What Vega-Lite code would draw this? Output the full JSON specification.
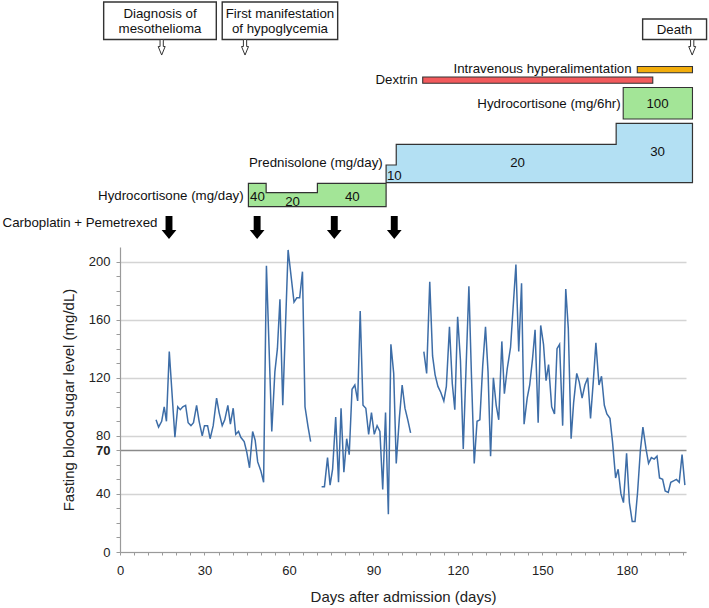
{
  "$schema": "https://vega.github.io/schema/vega-lite/v6.json",
  "padding": {"left": 2, "top": 0, "right": 2, "bottom": 2},
  "config": {"font": "Liberation Sans", "view": {"stroke": null}},
  "spacing": 0,
  "bounds": "flush",
  "resolve": {"scale": {"x": "independent", "y": "independent", "color": "independent"}},
  "datasets": {
    "boxes": [
      {"day": -5.8, "day2": 34.2, "level": 2, "level2": 39.5},
      {"day": 36.3, "day2": 77.3, "level": 2, "level2": 39.5},
      {"day": 185.6, "day2": 208.3, "level": 19, "level2": 39.5}
    ],
    "steps": [
      {"drug": "Prednisolone", "day": 94.5, "level": 165, "base": 182.7},
      {"drug": "Prednisolone", "day": 98.1, "level": 144.3, "base": 182.7},
      {"drug": "Prednisolone", "day": 176.2, "level": 123.3, "base": 182.7},
      {"drug": "Prednisolone", "day": 203.3, "level": 123.3, "base": 182.7},
      {"drug": "Hydrocortisone (mg/day)", "day": 45.6, "level": 183.3, "base": 206.7},
      {"drug": "Hydrocortisone (mg/day)", "day": 51.9, "level": 192.7, "base": 206.7},
      {"drug": "Hydrocortisone (mg/day)", "day": 70.1, "level": 183.3, "base": 206.7},
      {"drug": "Hydrocortisone (mg/day)", "day": 94.5, "level": 183.3, "base": 206.7}
    ],
    "bars": [
      {"drug": "Intravenous hyperalimentation", "day": 183.7, "day2": 203.3, "level": 66.5, "level2": 72.7},
      {"drug": "Dextrin", "day": 107.5, "day2": 189.2, "level": 77, "level2": 83.3},
      {"drug": "Hydrocortisone (mg/6hr)", "day": 178.7, "day2": 203.3, "level": 87.5, "level2": 119}
    ],
    "events": [
      {"event": "Diagnosis of mesothelioma", "day": 14.8, "level": 47.3},
      {"event": "First manifestation of hypoglycemia", "day": 44.4, "level": 47.3},
      {"event": "Death", "day": 203.2, "level": 47.3}
    ],
    "chemo": [
      {"cycle": 1, "day": 17.4, "level": 227.5},
      {"cycle": 2, "day": 48.7, "level": 227.5},
      {"cycle": 3, "day": 76.1, "level": 227.5},
      {"cycle": 4, "day": 97.4, "level": 227.5}
    ],
    "labels_center": [
      {"text": "Diagnosis of", "day": 14.2, "level": 14},
      {"text": "mesothelioma", "day": 14.2, "level": 29.3},
      {"text": "First manifestation", "day": 56.8, "level": 14},
      {"text": "of hypoglycemia", "day": 56.8, "level": 29.3},
      {"text": "Death", "day": 196.9, "level": 29.5},
      {"text": "100", "day": 190.9, "level": 104},
      {"text": "10", "day": 97.4, "level": 175.5},
      {"text": "20", "day": 141.2, "level": 162.7},
      {"text": "30", "day": 190.9, "level": 151.7},
      {"text": "40", "day": 48.8, "level": 196.7},
      {"text": "20", "day": 61.3, "level": 201.7},
      {"text": "40", "day": 82.5, "level": 196.7}
    ],
    "labels_right": [
      {"text": "Intravenous hyperalimentation", "day": 181.7, "level": 68.5},
      {"text": "Dextrin", "day": 105.7, "level": 80},
      {"text": "Hydrocortisone (mg/6hr)", "day": 177.8, "level": 104},
      {"text": "Prednisolone (mg/day)", "day": 93.3, "level": 163},
      {"text": "Hydrocortisone (mg/day)", "day": 43.9, "level": 195.7},
      {"text": "Carboplatin + Pemetrexed", "day": 13.3, "level": 223}
    ],
    "glucose": [
      {"day": 12.8, "value": 91, "segment": "A"},
      {"day": 13.7, "value": 86, "segment": "A"},
      {"day": 14.8, "value": 90, "segment": "A"},
      {"day": 15.7, "value": 100, "segment": "A"},
      {"day": 16.5, "value": 90, "segment": "A"},
      {"day": 17.5, "value": 138, "segment": "A"},
      {"day": 19.5, "value": 79, "segment": "A"},
      {"day": 20.5, "value": 100, "segment": "A"},
      {"day": 21.4, "value": 98, "segment": "A"},
      {"day": 22.3, "value": 100, "segment": "A"},
      {"day": 23.3, "value": 101, "segment": "A"},
      {"day": 24.2, "value": 89, "segment": "A"},
      {"day": 25.2, "value": 87, "segment": "A"},
      {"day": 26.1, "value": 89, "segment": "A"},
      {"day": 27.2, "value": 101, "segment": "A"},
      {"day": 28.1, "value": 90, "segment": "A"},
      {"day": 29.2, "value": 80, "segment": "A"},
      {"day": 30.0, "value": 87, "segment": "A"},
      {"day": 31.1, "value": 87, "segment": "A"},
      {"day": 32.0, "value": 78, "segment": "A"},
      {"day": 33.1, "value": 87, "segment": "A"},
      {"day": 34.3, "value": 106, "segment": "A"},
      {"day": 35.2, "value": 96, "segment": "A"},
      {"day": 36.3, "value": 87, "segment": "A"},
      {"day": 37.2, "value": 91, "segment": "A"},
      {"day": 38.3, "value": 101, "segment": "A"},
      {"day": 39.2, "value": 88, "segment": "A"},
      {"day": 40.2, "value": 99, "segment": "A"},
      {"day": 41.1, "value": 81, "segment": "A"},
      {"day": 42.1, "value": 83, "segment": "A"},
      {"day": 42.9, "value": 79, "segment": "A"},
      {"day": 44.1, "value": 76, "segment": "A"},
      {"day": 45.0, "value": 69, "segment": "A"},
      {"day": 46.0, "value": 58, "segment": "A"},
      {"day": 47.1, "value": 83, "segment": "A"},
      {"day": 48.0, "value": 77, "segment": "A"},
      {"day": 48.9, "value": 62, "segment": "A"},
      {"day": 50.0, "value": 56, "segment": "A"},
      {"day": 51.0, "value": 48, "segment": "A"},
      {"day": 52.0, "value": 197, "segment": "A"},
      {"day": 53.9, "value": 83, "segment": "A"},
      {"day": 55.0, "value": 124, "segment": "A"},
      {"day": 55.9, "value": 140, "segment": "A"},
      {"day": 56.8, "value": 174, "segment": "A"},
      {"day": 57.8, "value": 101, "segment": "A"},
      {"day": 59.7, "value": 208, "segment": "A"},
      {"day": 61.8, "value": 172, "segment": "A"},
      {"day": 62.8, "value": 175, "segment": "A"},
      {"day": 63.8, "value": 175, "segment": "A"},
      {"day": 64.8, "value": 193, "segment": "A"},
      {"day": 65.7, "value": 100, "segment": "A"},
      {"day": 66.8, "value": 86, "segment": "A"},
      {"day": 67.7, "value": 76, "segment": "A"},
      {"day": 71.6, "value": 45, "segment": "B"},
      {"day": 72.6, "value": 45, "segment": "B"},
      {"day": 73.7, "value": 65, "segment": "B"},
      {"day": 74.6, "value": 46, "segment": "B"},
      {"day": 75.5, "value": 57, "segment": "B"},
      {"day": 76.6, "value": 93, "segment": "B"},
      {"day": 77.6, "value": 48, "segment": "B"},
      {"day": 78.5, "value": 99, "segment": "B"},
      {"day": 79.5, "value": 55, "segment": "B"},
      {"day": 80.5, "value": 78, "segment": "B"},
      {"day": 81.4, "value": 67, "segment": "B"},
      {"day": 82.4, "value": 112, "segment": "B"},
      {"day": 83.4, "value": 115, "segment": "B"},
      {"day": 84.4, "value": 104, "segment": "B"},
      {"day": 85.3, "value": 166, "segment": "B"},
      {"day": 86.3, "value": 101, "segment": "B"},
      {"day": 87.3, "value": 99, "segment": "B"},
      {"day": 88.3, "value": 81, "segment": "B"},
      {"day": 89.3, "value": 96, "segment": "B"},
      {"day": 90.3, "value": 81, "segment": "B"},
      {"day": 91.3, "value": 87, "segment": "B"},
      {"day": 92.3, "value": 83, "segment": "B"},
      {"day": 93.3, "value": 43, "segment": "B"},
      {"day": 94.3, "value": 96, "segment": "B"},
      {"day": 95.3, "value": 26, "segment": "B"},
      {"day": 96.2, "value": 143, "segment": "B"},
      {"day": 97.2, "value": 123, "segment": "B"},
      {"day": 98.1, "value": 61, "segment": "B"},
      {"day": 99.2, "value": 92, "segment": "B"},
      {"day": 100.2, "value": 115, "segment": "B"},
      {"day": 101.2, "value": 99, "segment": "B"},
      {"day": 102.2, "value": 91, "segment": "B"},
      {"day": 103.2, "value": 82, "segment": "B"},
      {"day": 107.9, "value": 138, "segment": "C"},
      {"day": 108.9, "value": 123, "segment": "C"},
      {"day": 110.0, "value": 186, "segment": "C"},
      {"day": 111.0, "value": 135, "segment": "C"},
      {"day": 111.9, "value": 122, "segment": "C"},
      {"day": 112.9, "value": 114, "segment": "C"},
      {"day": 113.9, "value": 110, "segment": "C"},
      {"day": 115.0, "value": 104, "segment": "C"},
      {"day": 115.9, "value": 114, "segment": "C"},
      {"day": 117.0, "value": 155, "segment": "C"},
      {"day": 118.0, "value": 116, "segment": "C"},
      {"day": 118.9, "value": 98, "segment": "C"},
      {"day": 119.9, "value": 162, "segment": "C"},
      {"day": 120.9, "value": 132, "segment": "C"},
      {"day": 121.9, "value": 71, "segment": "C"},
      {"day": 123.9, "value": 183, "segment": "C"},
      {"day": 124.8, "value": 122, "segment": "C"},
      {"day": 125.8, "value": 61, "segment": "C"},
      {"day": 126.8, "value": 90, "segment": "C"},
      {"day": 127.8, "value": 91, "segment": "C"},
      {"day": 128.8, "value": 128, "segment": "C"},
      {"day": 129.8, "value": 155, "segment": "C"},
      {"day": 130.7, "value": 124, "segment": "C"},
      {"day": 131.6, "value": 66, "segment": "C"},
      {"day": 132.6, "value": 120, "segment": "C"},
      {"day": 133.6, "value": 101, "segment": "C"},
      {"day": 134.5, "value": 91, "segment": "C"},
      {"day": 135.6, "value": 145, "segment": "C"},
      {"day": 136.5, "value": 109, "segment": "C"},
      {"day": 137.5, "value": 126, "segment": "C"},
      {"day": 138.7, "value": 141, "segment": "C"},
      {"day": 139.6, "value": 168, "segment": "C"},
      {"day": 140.6, "value": 198, "segment": "C"},
      {"day": 141.6, "value": 138, "segment": "C"},
      {"day": 142.6, "value": 185, "segment": "C"},
      {"day": 143.5, "value": 88, "segment": "C"},
      {"day": 144.6, "value": 106, "segment": "C"},
      {"day": 145.5, "value": 115, "segment": "C"},
      {"day": 146.5, "value": 133, "segment": "C"},
      {"day": 147.4, "value": 153, "segment": "C"},
      {"day": 148.5, "value": 89, "segment": "C"},
      {"day": 149.4, "value": 156, "segment": "C"},
      {"day": 150.4, "value": 143, "segment": "C"},
      {"day": 151.3, "value": 118, "segment": "C"},
      {"day": 152.2, "value": 129, "segment": "C"},
      {"day": 153.3, "value": 100, "segment": "C"},
      {"day": 154.3, "value": 95, "segment": "C"},
      {"day": 155.2, "value": 140, "segment": "C"},
      {"day": 156.1, "value": 143, "segment": "C"},
      {"day": 157.2, "value": 87, "segment": "C"},
      {"day": 158.3, "value": 181, "segment": "C"},
      {"day": 159.2, "value": 154, "segment": "C"},
      {"day": 160.2, "value": 78, "segment": "C"},
      {"day": 161.1, "value": 103, "segment": "C"},
      {"day": 162.2, "value": 123, "segment": "C"},
      {"day": 163.1, "value": 117, "segment": "C"},
      {"day": 164.1, "value": 106, "segment": "C"},
      {"day": 165.1, "value": 115, "segment": "C"},
      {"day": 166.1, "value": 120, "segment": "C"},
      {"day": 167.1, "value": 92, "segment": "C"},
      {"day": 168.1, "value": 118, "segment": "C"},
      {"day": 169.0, "value": 144, "segment": "C"},
      {"day": 170.1, "value": 115, "segment": "C"},
      {"day": 171.0, "value": 121, "segment": "C"},
      {"day": 172.0, "value": 101, "segment": "C"},
      {"day": 172.9, "value": 95, "segment": "C"},
      {"day": 174.0, "value": 92, "segment": "C"},
      {"day": 174.9, "value": 76, "segment": "C"},
      {"day": 176.0, "value": 51, "segment": "C"},
      {"day": 176.9, "value": 57, "segment": "C"},
      {"day": 177.9, "value": 40, "segment": "C"},
      {"day": 178.8, "value": 34, "segment": "C"},
      {"day": 179.9, "value": 68, "segment": "C"},
      {"day": 180.9, "value": 34, "segment": "C"},
      {"day": 181.9, "value": 21, "segment": "C"},
      {"day": 182.9, "value": 21, "segment": "C"},
      {"day": 183.8, "value": 41, "segment": "C"},
      {"day": 184.8, "value": 70, "segment": "C"},
      {"day": 185.7, "value": 86, "segment": "C"},
      {"day": 186.8, "value": 71, "segment": "C"},
      {"day": 187.7, "value": 61, "segment": "C"},
      {"day": 188.7, "value": 65, "segment": "C"},
      {"day": 189.7, "value": 64, "segment": "C"},
      {"day": 190.7, "value": 66, "segment": "C"},
      {"day": 191.6, "value": 51, "segment": "C"},
      {"day": 192.7, "value": 50, "segment": "C"},
      {"day": 193.6, "value": 42, "segment": "C"},
      {"day": 194.7, "value": 41, "segment": "C"},
      {"day": 195.6, "value": 48, "segment": "C"},
      {"day": 196.6, "value": 49, "segment": "C"},
      {"day": 197.6, "value": 50, "segment": "C"},
      {"day": 198.6, "value": 48, "segment": "C"},
      {"day": 199.6, "value": 67, "segment": "C"},
      {"day": 200.6, "value": 46, "segment": "C"}
    ]
  },
  "vconcat": [
    {
      "width": 566,
      "height": 247,
      "layer": [
        {
          "data": {"name": "steps"},
          "mark": {"type": "area", "interpolate": "step-after", "stroke": "#333333", "strokeWidth": 1.2, "opacity": 1},
          "encoding": {
            "x": {"field": "day", "type": "quantitative", "scale": {"domain": [0, 201], "nice": false, "zero": false}, "axis": null},
            "y": {"field": "level", "type": "quantitative", "scale": {"domain": [0, 247], "nice": false, "zero": false, "reverse": true}, "axis": null},
            "y2": {"field": "base"},
            "color": {"field": "drug", "type": "nominal", "legend": null,
              "scale": {"domain": ["Prednisolone", "Hydrocortisone (mg/day)", "Hydrocortisone (mg/6hr)", "Dextrin", "Intravenous hyperalimentation"],
                        "range": ["#B3E0F3", "#A3E597", "#A3E597", "#F25A5C", "#F2AD0C"]}}
          }
        },
        {
          "data": {"name": "bars"},
          "mark": {"type": "rect", "stroke": "#333333", "strokeWidth": 1.1},
          "encoding": {
            "x": {"field": "day", "type": "quantitative", "scale": {"domain": [0, 201], "nice": false, "zero": false}, "axis": null},
            "x2": {"field": "day2"},
            "y": {"field": "level", "type": "quantitative", "scale": {"domain": [0, 247], "nice": false, "zero": false, "reverse": true}, "axis": null},
            "y2": {"field": "level2"},
            "color": {"field": "drug", "type": "nominal", "legend": null,
              "scale": {"domain": ["Prednisolone", "Hydrocortisone (mg/day)", "Hydrocortisone (mg/6hr)", "Dextrin", "Intravenous hyperalimentation"],
                        "range": ["#B3E0F3", "#A3E597", "#A3E597", "#F25A5C", "#F2AD0C"]}}
          }
        },
        {
          "data": {"name": "boxes"},
          "mark": {"type": "rect", "fill": "white", "stroke": "#333333", "strokeWidth": 1.4},
          "encoding": {
            "x": {"field": "day", "type": "quantitative", "axis": null},
            "x2": {"field": "day2"},
            "y": {"field": "level", "type": "quantitative", "axis": null},
            "y2": {"field": "level2"}
          }
        },
        {
          "data": {"name": "events"},
          "mark": {"type": "point", "filled": true, "fill": "white", "stroke": "#333333", "strokeWidth": 1, "opacity": 1, "size": 240,
                   "shape": "M -0.21 -1 L 0.21 -1 L 0.21 -0.1 L 0.45 -0.1 L 0 1 L -0.45 -0.1 L -0.21 -0.1 Z"},
          "encoding": {
            "x": {"field": "day", "type": "quantitative", "axis": null},
            "y": {"field": "level", "type": "quantitative", "axis": null}
          }
        },
        {
          "data": {"name": "chemo"},
          "mark": {"type": "point", "filled": true, "fill": "black", "strokeWidth": 0, "opacity": 1, "size": 529,
                   "shape": "M -0.3 -1 L 0.3 -1 L 0.3 0.22 L 0.64 0.22 L 0 1 L -0.64 0.22 L -0.3 0.22 Z"},
          "encoding": {
            "x": {"field": "day", "type": "quantitative", "axis": null},
            "y": {"field": "level", "type": "quantitative", "axis": null}
          }
        },
        {
          "data": {"name": "labels_center"},
          "mark": {"type": "text", "align": "center", "baseline": "middle", "fontSize": 13.3, "color": "#111111"},
          "encoding": {
            "x": {"field": "day", "type": "quantitative", "axis": null},
            "y": {"field": "level", "type": "quantitative", "axis": null},
            "text": {"field": "text"}
          }
        },
        {
          "data": {"name": "labels_right"},
          "mark": {"type": "text", "align": "right", "baseline": "middle", "fontSize": 13.3, "color": "#111111"},
          "encoding": {
            "x": {"field": "day", "type": "quantitative", "axis": null},
            "y": {"field": "level", "type": "quantitative", "axis": null},
            "text": {"field": "text"}
          }
        }
      ]
    },
    {
      "width": 566,
      "height": 305,
      "data": {"name": "glucose"},
      "mark": {"type": "line", "color": "#3D6DA7", "strokeWidth": 1.5},
      "encoding": {
        "x": {
          "field": "day", "type": "quantitative",
          "scale": {"domain": [0, 201], "nice": false, "zero": false},
          "axis": {
            "title": "Days after admission (days)",
            "values": [0,5,10,15,20,25,30,35,40,45,50,55,60,65,70,75,80,85,90,95,100,105,110,115,120,125,130,135,140,145,150,155,160,165,170,175,180,185,190,195,200],
            "labelExpr": "(datum.value % 30 == 0 && datum.value <= 180) ? datum.label : ''",
            "grid": false, "tickSize": 3, "tickColor": "#9a9a9a", "domainColor": "#9a9a9a", "domainWidth": 1.2,
            "labelFontSize": 13, "labelColor": "#222222", "labelPadding": 9, "labelFlush": false, "labelOverlap": false,
            "titleFontSize": 15, "titleFontWeight": "normal", "titleColor": "#222222", "titlePadding": 12
          }
        },
        "y": {
          "field": "value", "type": "quantitative",
          "scale": {"domain": [0, 210], "nice": false, "zero": true},
          "axis": {
            "title": "Fasting blood sugar level (mg/dL)",
            "values": [0,10,20,30,40,50,60,70,80,90,100,110,120,130,140,150,160,170,180,190,200],
            "labelExpr": "(datum.value % 40 == 0 || datum.value == 70) ? datum.label : ''",
            "grid": true,
            "gridColor": {"condition": {"test": "datum.value == 70", "value": "#8a8a8a"}, "value": "#d4d4d4"},
            "gridOpacity": {"condition": {"test": "datum.value % 40 == 0 || datum.value == 70", "value": 1}, "value": 0},
            "gridWidth": {"condition": {"test": "datum.value == 70", "value": 1.5}, "value": 1.3},
            "labelFontWeight": {"condition": {"test": "datum.value == 70", "value": "bold"}, "value": "normal"},
            "tickSize": 4, "tickColor": "#9a9a9a", "domainColor": "#9a9a9a", "domainWidth": 1.2,
            "labelFontSize": 13, "labelColor": "#222222", "labelPadding": 6, "labelOverlap": false,
            "titleFontSize": 15, "titleFontWeight": "normal", "titleColor": "#222222", "titlePadding": 12
          }
        },
        "detail": {"field": "segment", "type": "nominal"}
      }
    }
  ]
}
